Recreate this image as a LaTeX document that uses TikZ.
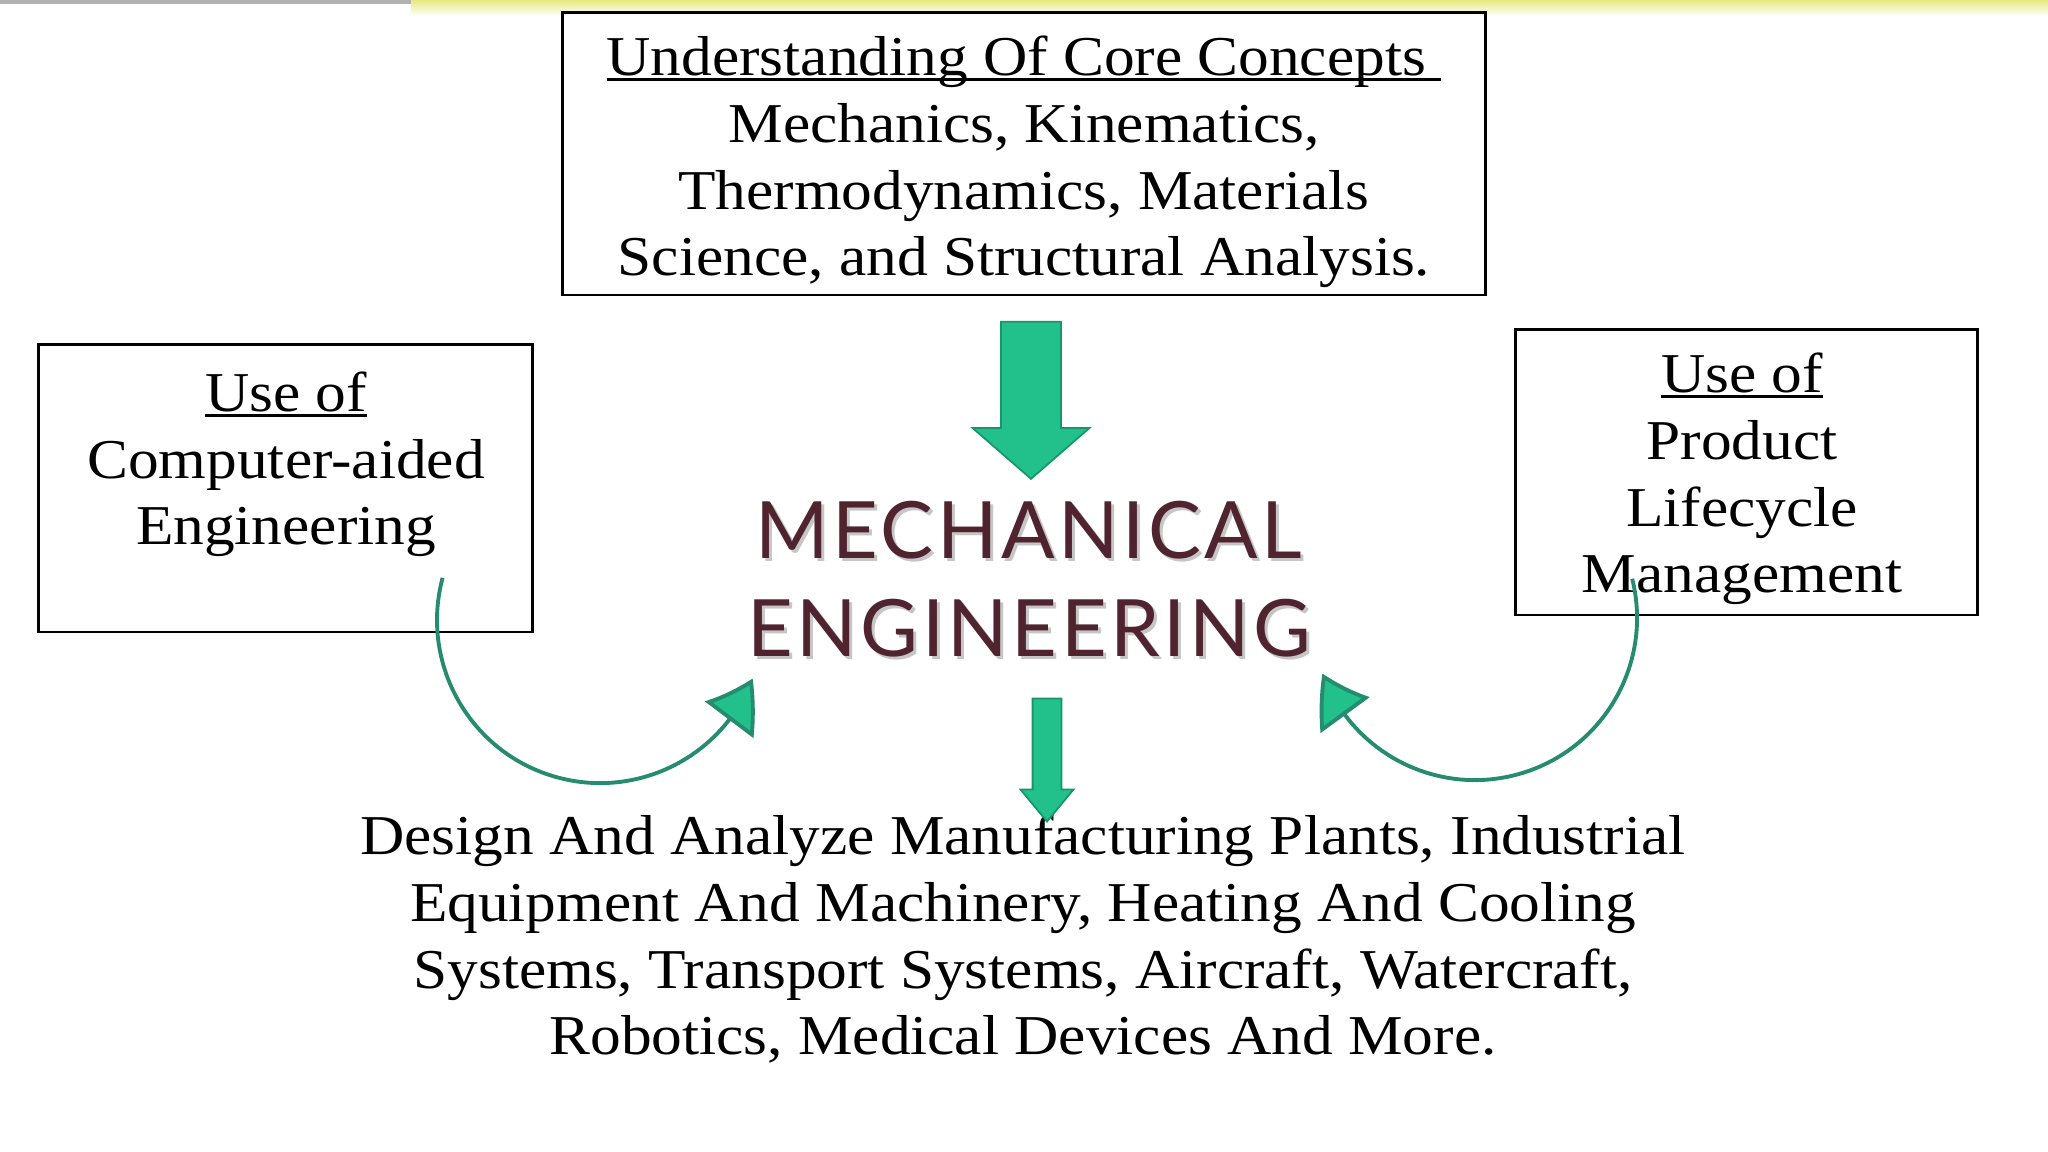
\documentclass[tikz,border=0pt]{standalone}
\usepackage{fontspec}
\setmainfont[FakeStretch=1.09]{Liberation Serif}
\newfontfamily\titlefont[LetterSpace=4.5]{Lato}
\usetikzlibrary{positioning,shapes.arrows,arrows.meta,bending}
\definecolor{arrowgreen}{RGB}{34,192,138}
\definecolor{arrowedge}{RGB}{22,150,108}
\definecolor{curvegreen}{RGB}{38,140,112}
\definecolor{titlered}{RGB}{80,36,46}
\definecolor{baryellow}{RGB}{232,232,128}
\newcommand{\ulined}[1]{\setbox0\hbox{#1}\rlap{\rule[-1.5pt]{\wd0}{0.8pt}}\box0}
\begin{document}
\begin{tikzpicture}[x=0.01cm,y=0.01cm,
  every node/.style={inner sep=0pt},
  plain/.style={font=\fontsize{16pt}{19pt}\selectfont, align=center, anchor=base},
  conceptbox/.style={draw=black, line width=0.8pt},
  titletext/.style={font=\titlefont\fontsize{22.5pt}{27.9pt}\selectfont, align=center, anchor=base},
  fatarrow/.style={single arrow, draw=arrowedge, fill=arrowgreen, line width=0.5pt, rotate=-90, anchor=tip},
  curvearrow/.style={draw=curvegreen, line width=1.1pt, -{Triangle[width=6mm,length=4.8mm,bend,fill=arrowgreen]}}]
\useasboundingbox (0,0) rectangle (2048,1152);
\fill[white] (0,0) rectangle (2048,1152);
\fill[gray!60] (0,1148) rectangle (411,1152);
\shade[top color=baryellow, bottom color=white] (411,1136) rectangle (2048,1152);
\node[conceptbox, minimum width=9.22cm, minimum height=2.82cm] (core) at (1024,998) {};
\node[conceptbox, minimum width=4.93cm, minimum height=2.87cm] (cae) at (285.5,663.5) {};
\node[conceptbox, minimum width=4.61cm, minimum height=2.85cm] (plm) at (1746.5,679.5) {};
\node[plain] (coretext) at (1024,876) {\ulined{Understanding Of Core Concepts\ }\\Mechanics, Kinematics,\\Thermodynamics, Materials\\Science, and Structural Analysis.};
\node[plain] (caetext) at (286,607) {\ulined{Use of}\\Computer-aided\\Engineering};
\node[plain] (plmtext) at (1742,559) {\ulined{Use of}\\Product\\Lifecycle\\Management};
\node[titletext, text=gray!45] (mechshadow) at (1032,492) {MECHANICAL\\ENGINEERING};
\node[titletext, text=titlered] (mech) at (1029,495) {MECHANICAL\\ENGINEERING};
\node[plain] (apps) at (1023,97) {Design And Analyze Manufacturing Plants, Industrial\\Equipment And Machinery, Heating And Cooling\\Systems, Transport Systems, Aircraft, Watercraft,\\Robotics, Medical Devices And More.};
\node[fatarrow, minimum height=15.7mm, minimum width=11.5mm, inner ysep=2.9mm, single arrow head extend=2.85mm, single arrow tip angle=98] (corearrow) at (1031,672) {};
\node[fatarrow, minimum height=12.3mm, minimum width=5.1mm, inner ysep=1.35mm, single arrow head extend=1.2mm, single arrow tip angle=79] (apparrow) at (1047,329) {};
\coordinate (caestart) at (442.6,574.2);
\coordinate (plmstart) at (1632.2,573.2);
\draw[curvearrow] (caestart) arc[start angle=165, end angle=339, radius=1.63cm];
\draw[curvearrow] (plmstart) arc[start angle=14, end angle=-160, radius=1.62cm];
\end{tikzpicture}
\end{document}
